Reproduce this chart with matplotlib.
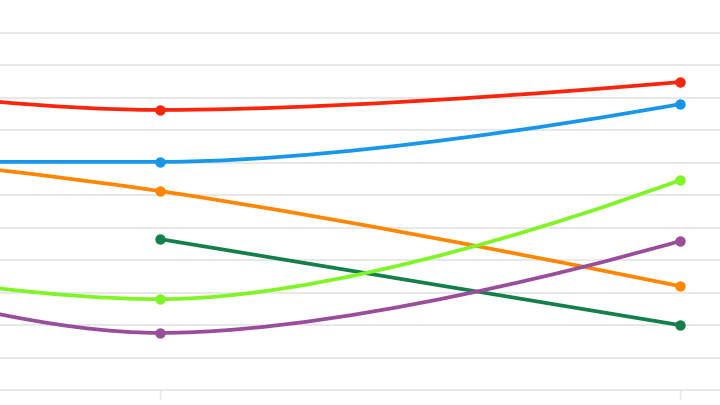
import matplotlib
matplotlib.use('Agg')
import matplotlib.pyplot as plt
from matplotlib.path import Path
from matplotlib.patches import PathPatch

categories = ['A', 'B', 'C']
red = [103.5, 86.3, 94.9]
blue = [70.3, 70.3, 88.1]
orange = [79.2, 61.3, 32.0]
green = [None, 46.5, 20.0]
lime = [51.0, 28.0, 64.7]
purple = [57.9, 17.6, 45.9]

series = [
    (red, '#f9250c'),
    (blue, '#1896ea'),
    (orange, '#ff8600'),
    (green, '#148049'),
    (lime, '#7ff526'),
    (purple, '#9a4d9a'),
]


def spline_controls(pts, i, smoothing=1.5):
    # highcharts style spline control points for point i
    x, y = pts[i]
    if i == 0 or i == len(pts) - 1:
        return (x, y), (x, y)
    lx, ly = pts[i - 1]
    nx, ny = pts[i + 1]
    denom = smoothing + 1
    lcx = (smoothing * x + lx) / denom
    lcy = (smoothing * y + ly) / denom
    rcx = (smoothing * x + nx) / denom
    rcy = (smoothing * y + ny) / denom
    corr = 0
    if rcx != lcx:
        corr = (rcy - lcy) * (rcx - x) / (rcx - lcx) + y - rcy
    lcy += corr
    rcy += corr
    if lcy > ly and lcy > y:
        lcy = max(ly, y)
        rcy = 2 * y - lcy
    elif lcy < ly and lcy < y:
        lcy = min(ly, y)
        rcy = 2 * y - lcy
    if rcy > ny and rcy > y:
        rcy = max(ny, y)
        lcy = 2 * y - rcy
    elif rcy < ny and rcy < y:
        rcy = min(ny, y)
        lcy = 2 * y - rcy
    return (lcx, lcy), (rcx, rcy)


fig = plt.figure(figsize=(7.2, 4.05), dpi=100)
ax = fig.add_axes([0, 0, 1, 1])

for v in range(10, 120, 10):
    ax.axhline(v, color='#e6e6e6', linewidth=1.3, zorder=1)

for s in ['top', 'left', 'right']:
    ax.spines[s].set_visible(False)
ax.spines['bottom'].set_position(('data', 0))
ax.spines['bottom'].set_color('#e6e6e6')
ax.spines['bottom'].set_linewidth(1.3)

for k, (vals, col) in enumerate(series):
    pts = [(i, v) for i, v in enumerate(vals) if v is not None]
    ctrls = [spline_controls(pts, i) for i in range(len(pts))]
    verts = [pts[0]]
    codes = [Path.MOVETO]
    for i in range(1, len(pts)):
        verts += [ctrls[i - 1][1], ctrls[i][0], pts[i]]
        codes += [Path.CURVE4] * 3
    patch = PathPatch(Path(verts, codes), facecolor='none', edgecolor=col,
                      linewidth=2.7, capstyle='round', joinstyle='round', zorder=3 + k)
    ax.add_patch(patch)
    ax.plot([p[0] for p in pts], [p[1] for p in pts], linestyle='none', marker='o',
            markersize=7.5, color=col, markeredgewidth=0, zorder=3 + k)

ax.set_yticks([])
ax.set_xticks(range(len(categories)))
ax.set_xticklabels([])
ax.tick_params(axis='x', direction='out', length=7.5, width=1.0, color='#e6e6e6')
ax.set_xlim(1 - 160 / 520, 2 + 40 / 520)
ax.set_ylim(-15 / 3.245, 390 / 3.245)

fig.savefig('out.png', dpi=100)
